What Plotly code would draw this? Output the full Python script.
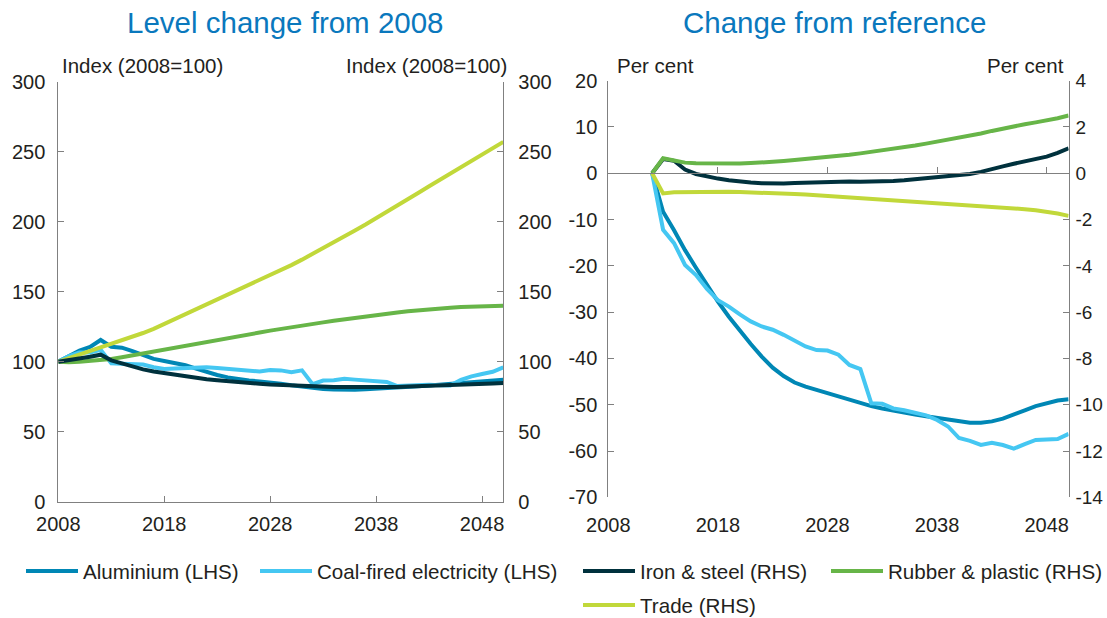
import plotly.graph_objects as go

# ---------------- data ----------------
years_lvl = list(range(2008, 2051))
alu_lvl = [100, 104, 108, 110.5, 115.5, 110.7, 110, 107.5, 104.5, 102, 100.5, 99, 97.5, 95, 92.5,
           90.5, 88.8, 87.5, 86.6, 85.9, 85.3, 84.3, 83.2, 82.2, 81.2, 80.5, 80.1, 79.9, 80, 80.3,
           80.6, 81, 81.5, 82, 82.5, 83, 83.7, 84.3, 85, 85.7, 86.3, 86.8, 87.2]
coal_lvl = [100, 104, 106.5, 106.5, 108.5, 98.8, 98.5, 98.3, 98, 96, 94.8, 95.2, 95.7, 96.2, 96,
            95.5, 94.8, 94.5, 93.5, 93, 94, 93.8, 92.5, 93.8, 84, 86.5, 86.8, 87.8, 87.2, 86.8,
            86.3, 85.5, 82.6, 83, 83.3, 83.5, 83.2, 83, 87, 89.5, 91.2, 92.8, 96]
iron_lvl = [100, 101, 102.5, 103.5, 105, 101, 98.8, 96.5, 94.5, 93, 91.8, 90.5, 89.5, 88.5, 87.5,
            86.8, 86, 85.4, 84.8, 84.3, 83.8, 83.4, 83, 82.7, 82.4, 82.1, 82, 81.9, 81.8, 81.8,
            81.8, 81.9, 82, 82.2, 82.4, 82.7, 83, 83.3, 83.6, 83.9, 84.2, 84.5, 84.8]
rubber_lvl = [100, 99.6, 100, 100.5, 101, 102, 103.2, 104.5, 105.8, 107.1, 108.4, 109.7, 111, 112.3,
              113.6, 115, 116.4, 117.8, 119.3, 120.8, 122.2, 123.5, 124.7, 125.9, 127, 128.1, 129.2,
              130.3, 131.4, 132.4, 133.4, 134.3, 135.2, 136, 136.8, 137.5, 138.1, 138.6, 139, 139.4,
              139.7, 139.9, 140]
trade_lvl = [100, 102.5, 105, 107.5, 110.5, 112.7, 115.2, 117.8, 120.5, 123.5, 127, 130.3, 133.6,
             137, 140.4, 143.8, 147.3, 150.8, 154.3, 157.9, 161.5, 165.2, 169, 172.9, 176.9, 181,
             185.2, 189.4, 193.7, 198, 202.4, 206.9, 211.4, 216, 220.7, 225.3, 229.9, 234.5, 239,
             243.5, 248, 252.5, 257]

years_ref = list(range(2012, 2051))
alu_ref = [0, -8.3, -12.3, -16.6, -20.4, -24.1, -27.7, -31, -34, -36.9, -39.6, -42, -43.8, -45.2,
           -46.1, -46.8, -47.4, -48.2, -49, -49.7, -50.3, -50.8, -51.3, -51.7, -52.1, -52.5, -52.9,
           -53.3, -53.7, -53.9, -53.9, -53.6, -53, -52.2, -51.2, -50.3, -49.6, -49.1, -48.8]
coal_ref = [0, -12.2, -15.1, -19.8, -22, -25, -27.4, -28.8, -30.5, -32, -33.1, -33.8, -34.9, -36.2,
            -37.4, -38.2, -38.3, -39.2, -41.4, -42.3, -49.7, -49.8, -50.8, -51.2, -51.7, -52.3,
            -53.3, -54.7, -57.2, -57.8, -58.7, -58.2, -58.7, -59.5, -58.5, -57.6, -57.5, -57.4, -56.3]
iron_ref = [0, 0.62, 0.54, 0.16, -0.03, -0.14, -0.23, -0.3, -0.36, -0.4, -0.43, -0.45, -0.44, -0.42,
            -0.4, -0.39, -0.38, -0.37, -0.36, -0.37, -0.37, -0.36, -0.33, -0.3, -0.26, -0.22, -0.19,
            -0.15, -0.1, -0.03, 0.06, 0.16, 0.3, 0.41, 0.5, 0.6, 0.72, 0.88, 1.08]
rubber_ref = [0, 0.65, 0.55, 0.46, 0.43, 0.42, 0.41, 0.41, 0.42, 0.44, 0.46, 0.49, 0.53, 0.57, 0.61,
              0.65, 0.7, 0.75, 0.8, 0.86, 0.92, 0.99, 1.06, 1.13, 1.2, 1.28, 1.36, 1.44, 1.53, 1.62,
              1.72, 1.83, 1.94, 2.04, 2.12, 2.2, 2.27, 2.38, 2.5]
trade_ref = [0, -0.87, -0.82, -0.81, -0.8, -0.8, -0.8, -0.8, -0.81, -0.82, -0.84, -0.86, -0.88, -0.9,
             -0.92, -0.95, -0.98, -1.02, -1.06, -1.1, -1.12, -1.14, -1.16, -1.19, -1.23, -1.27, -1.3,
             -1.33, -1.36, -1.39, -1.42, -1.45, -1.48, -1.51, -1.55, -1.6, -1.66, -1.74, -1.84]

x_ticks = [2008, 2018, 2028, 2038, 2048]
lvl_ticks = [0, 50, 100, 150, 200, 250, 300]
ref_l_ticks = [-70, -60, -50, -40, -30, -20, -10, 0, 10, 20]
ref_l_text = ["-70", "-60", "-50", "-40", "-30", "-20", "-10", "0", "10", "20"]
ref_r_ticks = [-14, -12, -10, -8, -6, -4, -2, 0, 2, 4]
ref_r_text = ["-14", "-12", "-10", "-8", "-6", "-4", "-2", "0", "2", "4"]
names = ["Aluminium (LHS)", "Coal-fired electricity (LHS)", "Iron & steel (RHS)",
         "Rubber & plastic (RHS)", "Trade (RHS)"]
colors = ["#0087b5", "#45c7f2", "#00313d", "#67b548", "#c1d83a"]

# ---------------- figure ----------------
W, H = 1107, 618
FONT = "Liberation Sans, Arial, Helvetica, sans-serif"
TXT = "#231f20"
AX = "#808080"
LW = 4

def px_x(p):
    return p / W

def px_y(p):
    return (H - p) / H

fig = go.Figure()

lvl_series = [alu_lvl, coal_lvl, iron_lvl, rubber_lvl, trade_lvl]
ref_series = [alu_ref, coal_ref, iron_ref, rubber_ref, trade_ref]
lvl_axes = ["y", "y", "y2", "y2", "y2"]
ref_axes = ["y3", "y3", "y4", "y4", "y4"]
legend_ids = ["legend", "legend2", "legend3", "legend4", "legend5"]

# left panel, drawing order: trade, rubber, iron, aluminium, coal
for i in [4, 3, 2, 0, 1]:
    fig.add_trace(go.Scatter(
        x=years_lvl, y=lvl_series[i], mode="lines", name=names[i],
        line=dict(color=colors[i], width=LW), xaxis="x", yaxis=lvl_axes[i],
        legend=legend_ids[i], showlegend=True, legendgroup=names[i]))

# right panel
for i in [0, 1, 2, 3, 4]:
    fig.add_trace(go.Scatter(
        x=years_ref, y=ref_series[i], mode="lines", name=names[i],
        line=dict(color=colors[i], width=LW), xaxis="x2", yaxis=ref_axes[i],
        showlegend=False, legendgroup=names[i]))

# empty trace that carries the zero-line axis of the right panel
fig.add_trace(go.Scatter(x=[2008], y=[None], xaxis="x3", yaxis="y3", showlegend=False,
                         hoverinfo="skip", mode="lines"))

ld = [px_x(58.3), px_x(503.3)]
rd = [px_x(608.3), px_x(1068.6)]
ly = [px_y(501.7), px_y(81.7)]
ry = [px_y(497.3), px_y(80.7)]
ref_min, ref_max = -70, 20
zero_pos = ry[0] + (0 - ref_min) / (ref_max - ref_min) * (ry[1] - ry[0])

tickfont = dict(family=FONT, size=20, color=TXT)
common_ax = dict(showgrid=False, zeroline=False, linecolor=AX, linewidth=1, tickcolor=AX,
                 ticklen=6, tickwidth=1, fixedrange=True)

# legend positions (left edge of each entry, row centre) in pixels
leg_pos = [(21, 571), (255, 571), (578, 571), (826, 571), (578, 605)]
legends = {}
for lid, (lx, lyy) in zip(legend_ids, leg_pos):
    legends[lid] = dict(orientation="h", x=px_x(lx), y=px_y(lyy), xanchor="left",
                        yanchor="middle", font=dict(family=FONT, size=20.6, color=TXT),
                        itemwidth=52, bgcolor="rgba(0,0,0,0)")

fig.update_layout(
    width=W, height=H, margin=dict(l=0, r=0, t=0, b=0, autoexpand=False),
    paper_bgcolor="white", plot_bgcolor="white",
    font=dict(family=FONT, size=20, color=TXT),
    xaxis=dict(domain=ld, range=[2008, 2050], anchor="y", tickvals=x_ticks, showline=True,
               ticks="inside", ticklabelstandoff=4, tickfont=tickfont, **common_ax),
    yaxis=dict(domain=ly, range=[0, 300], tickvals=lvl_ticks, anchor="x", showline=True,
               ticks="inside", side="left", ticklabelstandoff=8, tickfont=tickfont,
               **common_ax),
    yaxis2=dict(range=[0, 300], tickvals=lvl_ticks, anchor="x", overlaying="y", side="right",
                showline=True, ticks="inside", ticklabelstandoff=10, tickfont=tickfont,
                **common_ax),
    xaxis2=dict(domain=rd, range=[2008, 2050], anchor="y3", tickvals=x_ticks, showline=False,
                ticks="", ticklabelstandoff=14, tickfont=tickfont, **common_ax),
    xaxis3=dict(range=[2008, 2050], overlaying="x2", anchor="free", position=zero_pos,
                tickvals=x_ticks, showline=True, ticks="inside", showticklabels=False,
                **common_ax),
    yaxis3=dict(domain=ry, range=[ref_min, ref_max], tickvals=ref_l_ticks, ticktext=ref_l_text,
                anchor="x2", showline=True, ticks="inside", side="left", ticklabelstandoff=6,
                tickfont=tickfont, **common_ax),
    yaxis4=dict(range=[-14, 4], tickvals=ref_r_ticks, ticktext=ref_r_text, anchor="x2",
                overlaying="y3", side="right", showline=True, ticks="inside",
                ticklabelstandoff=2, tickfont=dict(family=FONT, size=19, color=TXT),
                **common_ax),
    showlegend=True,
    **legends,
)

title_color = "#0a78bd"
ann = [
    dict(text="Level change from 2008", x=px_x(285.5), y=px_y(22), xanchor="center",
         yanchor="middle", font=dict(family=FONT, size=29.5, color=title_color)),
    dict(text="Change from reference", x=px_x(834.5), y=px_y(22), xanchor="center",
         yanchor="middle", font=dict(family=FONT, size=29.5, color=title_color)),
    dict(text="Index (2008=100)", x=px_x(60), y=px_y(66), xanchor="left", yanchor="middle",
         font=dict(family=FONT, size=20.5, color=TXT)),
    dict(text="Index (2008=100)", x=px_x(509), y=px_y(66), xanchor="right", yanchor="middle",
         font=dict(family=FONT, size=20.5, color=TXT)),
    dict(text="Per cent", x=px_x(615), y=px_y(66), xanchor="left", yanchor="middle",
         font=dict(family=FONT, size=20.5, color=TXT)),
    dict(text="Per cent", x=px_x(1066), y=px_y(66), xanchor="right", yanchor="middle",
         font=dict(family=FONT, size=20.5, color=TXT)),
]
for a in ann:
    a.update(xref="paper", yref="paper", showarrow=False)
fig.update_layout(annotations=ann)

fig.write_html("out.html", config={"displayModeBar": False},
               post_script="document.body.style.margin='0';")
